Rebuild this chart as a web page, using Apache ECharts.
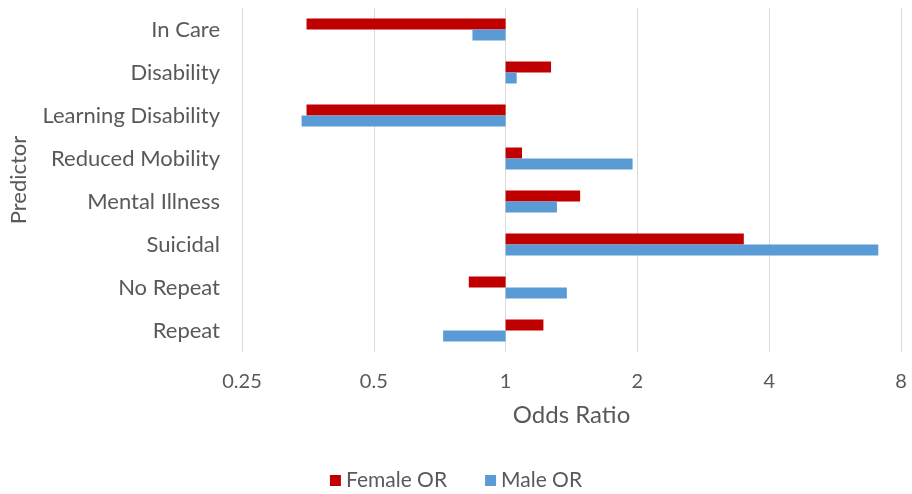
<!DOCTYPE html>
<html>
<head>
<meta charset="utf-8">
<script src="https://cdn.jsdelivr.net/npm/echarts@6/dist/echarts.min.js"></script>
<style>html,body{margin:0;padding:0;background:#fff;}#c{width:912px;height:494px;}</style>
</head>
<body>
<div id="c"></div>
<script>
// categories listed bottom to top
var categories = ['Repeat', 'No Repeat', 'Suicidal', 'Mental Illness', 'Reduced Mobility', 'Learning Disability', 'Disability', 'In Care'];
var femaleOR = [1.22, 0.824, 3.50, 1.48, 1.09, 0.351, 1.27, 0.351];
var maleOR = [0.72, 1.38, 7.10, 1.31, 1.95, 0.342, 1.06, 0.840];
var xTicks = [0.25, 0.5, 1, 2, 4, 8];

var chart = echarts.init(document.getElementById('c'));
var txt = '#595959';
var font = 'Lato';
chart.setOption({
  animation: false,
  textStyle: { fontFamily: font },
  grid: { left: 242, right: 11, top: 8, bottom: 142, containLabel: false },
  legend: {
    bottom: -2, left: 'center',
    icon: 'rect', itemWidth: 11, itemHeight: 11, itemGap: 38, itemStyle: { borderWidth: 0 },
    textStyle: { color: txt, fontSize: 21, fontFamily: font },
    data: ['Female OR', 'Male OR']
  },
  xAxis: {
    type: 'log', logBase: 2, min: xTicks[0], max: xTicks[xTicks.length - 1],
    name: 'Odds Ratio', nameLocation: 'middle', nameGap: 51,
    nameTextStyle: { color: txt, fontSize: 24, fontFamily: font },
    axisLine: { show: false },
    axisTick: { show: false },
    splitLine: { show: true, lineStyle: { color: '#d9d9d9', width: 1 } },
    axisLabel: {
      color: txt, fontSize: 20, margin: 20,
      formatter: function (v) {
        var best = xTicks[0];
        xTicks.forEach(function (t) { if (Math.abs(Math.log2(t) - Math.log2(v)) < Math.abs(Math.log2(best) - Math.log2(v))) best = t; });
        return String(best);
      }
    }
  },
  yAxis: {
    type: 'category', data: categories,
    name: 'Predictor', nameLocation: 'middle', nameGap: 212, nameRotate: 90,
    nameTextStyle: { color: txt, fontSize: 22, fontFamily: font },
    axisLine: { show: false },
    axisTick: { show: false },
    splitLine: { show: false },
    axisLabel: { color: txt, fontSize: 22, margin: 22 }
  },
  series: [
    { name: 'Female OR', type: 'bar', data: femaleOR, barWidth: 11, barGap: '0%',
      itemStyle: { color: '#C00000' } },
    { name: 'Male OR', type: 'bar', data: maleOR, barWidth: 11, barGap: '0%',
      itemStyle: { color: '#5B9BD5' } }
  ]
});
</script>
</body>
</html>
